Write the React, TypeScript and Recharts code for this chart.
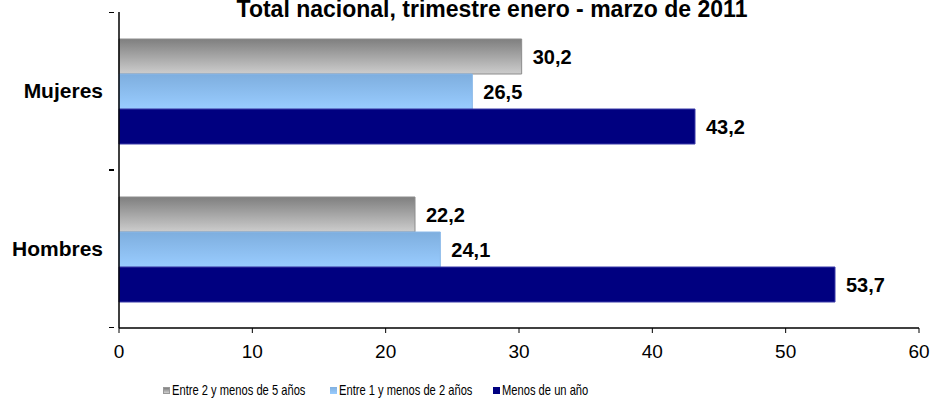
import React from 'react';
import { BarChart, Bar, XAxis, YAxis, Legend, LabelList } from 'recharts';

const categories = ['Mujeres', 'Hombres'];
const entre2y5 = [30.2, 22.2];
const entre1y2 = [26.5, 24.1];
const menosUnAno = [43.2, 53.7];
const xTicks = [0, 10, 20, 30, 40, 50, 60];

const seriesKeys = ['entre2y5', 'entre1y2', 'menosUnAno'];
const seriesNames: Record<string, string> = {
  entre2y5: 'Entre 2 y menos de 5 años',
  entre1y2: 'Entre 1 y menos de 2 años',
  menosUnAno: 'Menos de un año',
};

const data = categories.map((name, i) => ({
  name,
  entre2y5: entre2y5[i],
  entre1y2: entre1y2[i],
  menosUnAno: menosUnAno[i],
}));

const FONT = '"Liberation Sans", Arial, sans-serif';
const HALF_BAND = 78.5;

const fmt = (v: any) => String(v).replace('.', ',');

const CategoryTick = (props: any) => {
  const { x, y, payload } = props;
  return (
    <g>
      <line x1={x - 2} x2={x + 3} y1={y - HALF_BAND} y2={y - HALF_BAND} stroke="#000" />
      <line x1={x - 2} x2={x + 3} y1={y + HALF_BAND} y2={y + HALF_BAND} stroke="#000" />
      <text
        x={x - 8}
        y={y}
        dy="0.35em"
        textAnchor="end"
        fontFamily={FONT}
        fontWeight="bold"
        fontSize={21}
        fill="#000"
      >
        {payload.value}
      </text>
    </g>
  );
};

const legendIcons: Record<string, string> = {
  entre2y5: 'linear-gradient(#7f7f7f, #cfcfcf)',
  entre1y2: 'linear-gradient(#80b0e0, #99ccff)',
  menosUnAno: '#000080',
};
const legendLeft: Record<string, number> = { entre2y5: 163, entre1y2: 330, menosUnAno: 493 };

const LegendContent = () => (
  <div style={{ position: 'relative', height: 24, color: '#000' }}>
    {seriesKeys.map((k) => (
      <div
        key={k}
        style={{
          position: 'absolute',
          left: legendLeft[k],
          top: 1,
          height: 24,
          display: 'flex',
          alignItems: 'center',
          whiteSpace: 'nowrap',
        }}
      >
        <span
          style={{
            display: 'inline-block',
            width: 7,
            height: 7,
            boxSizing: 'border-box',
            background: legendIcons[k],
            border: k === 'entre2y5' ? '1px solid #999' : 'none',
            marginRight: 2,
          }}
        />
        <span
          style={{
            display: 'inline-block',
            fontFamily: FONT,
            fontSize: 14.5,
            transform: 'scaleX(0.77)',
            transformOrigin: 'left center',
          }}
        >
          {seriesNames[k]}
        </span>
      </div>
    ))}
  </div>
);

const App = () => {
  return (
    <div style={{ position: 'absolute', left: 0, top: 0, width: 931, height: 401, background: '#fff' }}>
      <div
        style={{
          position: 'absolute',
          left: 492,
          top: -1,
          transform: 'translateX(-50%)',
          whiteSpace: 'nowrap',
          fontFamily: FONT,
          fontWeight: 'bold',
          fontSize: 23,
          lineHeight: '20px',
          color: '#000',
        }}
      >
        Total nacional, trimestre enero - marzo de 2011
      </div>
      <BarChart
        width={931}
        height={401}
        data={data}
        layout="vertical"
        margin={{ top: 12, right: 12, bottom: 0, left: 0 }}
        barGap={0}
        barSize={35}
      >
        <defs>
          <linearGradient id="gGray" x1="0" y1="0" x2="0" y2="1">
            <stop offset="0%" stopColor="#7f7f7f" />
            <stop offset="100%" stopColor="#cdcdcd" />
          </linearGradient>
          <linearGradient id="gBlue" x1="0" y1="0" x2="0" y2="1">
            <stop offset="0%" stopColor="#7eaede" />
            <stop offset="100%" stopColor="#99ccff" />
          </linearGradient>
        </defs>
        <XAxis
          type="number"
          domain={[0, 60]}
          ticks={xTicks}
          interval={0}
          height={49}
          tickSize={5}
          tickMargin={12}
          axisLine={{ stroke: '#000', strokeWidth: 1.5 }}
          tickLine={{ stroke: '#000' }}
          tick={{ fill: '#000', fontSize: 19, fontFamily: FONT }}
        />
        <YAxis
          type="category"
          dataKey="name"
          width={119}
          axisLine={{ stroke: '#000', strokeWidth: 1.5 }}
          tickLine={false}
          tick={<CategoryTick />}
        />
        <Legend verticalAlign="bottom" content={<LegendContent />} />
        <Bar
          dataKey="entre2y5"
          name={seriesNames.entre2y5}
          fill="url(#gGray)"
          stroke="#8c8c8c"
          strokeWidth={1}
          isAnimationActive={false}
        >
          <LabelList
            dataKey="entre2y5"
            position="right"
            offset={11}
            formatter={fmt}
            fill="#000"
            fontWeight="bold"
            fontSize={20}
            fontFamily={FONT}
          />
        </Bar>
        <Bar
          dataKey="entre1y2"
          name={seriesNames.entre1y2}
          fill="url(#gBlue)"
          stroke="#8ab8e8"
          strokeWidth={1}
          isAnimationActive={false}
        >
          <LabelList
            dataKey="entre1y2"
            position="right"
            offset={11}
            formatter={fmt}
            fill="#000"
            fontWeight="bold"
            fontSize={20}
            fontFamily={FONT}
          />
        </Bar>
        <Bar
          dataKey="menosUnAno"
          name={seriesNames.menosUnAno}
          fill="#000080"
          stroke="#3a3aa8"
          strokeWidth={1}
          isAnimationActive={false}
        >
          <LabelList
            dataKey="menosUnAno"
            position="right"
            offset={11}
            formatter={fmt}
            fill="#000"
            fontWeight="bold"
            fontSize={20}
            fontFamily={FONT}
          />
        </Bar>
      </BarChart>
    </div>
  );
};

export default App;
